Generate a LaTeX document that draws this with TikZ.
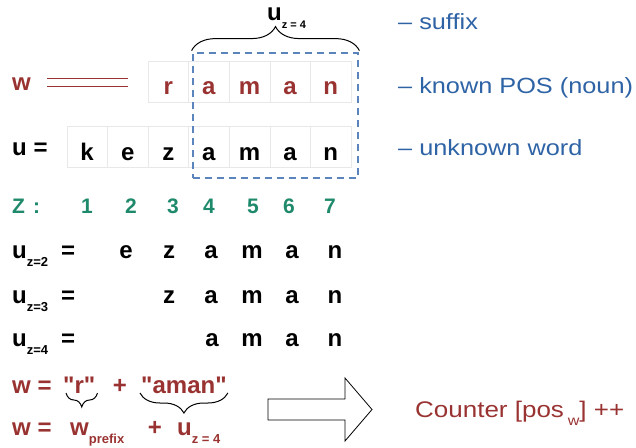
\documentclass[tikz,border=0pt]{standalone}
\usepackage{fontspec}
\setmainfont{Liberation Sans}
\newfontfamily\plainsans{Liberation Sans}
\newfontfamily\widesans[FakeStretch=1.15]{Liberation Sans}
\usepackage{tikz}
\usetikzlibrary{decorations.pathreplacing}
\definecolor{wordred}{HTML}{993331}
\definecolor{zgreen}{HTML}{1F8A6B}
\definecolor{noteblue}{HTML}{2E63A5}
\definecolor{boxblue}{HTML}{5A84BC}
\newcommand{\bigletter}{\plainsans\fontsize{24}{24}\selectfont\bfseries}
\newcommand{\zsub}[2][13]{\raisebox{-8pt}{\fontsize{#1}{#1}\selectfont #2}}
\tikzset{
  cell/.style={draw=black!9, minimum width=40.6pt, minimum height=41pt,
    text height=26pt, text depth=0pt, inner sep=0pt, font=\bigletter},
  letter/.style={anchor=base, inner sep=0pt, font=\bigletter},
  lbl/.style={anchor=base west, inner sep=0pt, font=\bigletter},
  note/.style={anchor=base west, inner sep=0pt, text=noteblue,
    font=\widesans\fontsize{22}{22}\selectfont},
  zlbl/.style={anchor=base, inner sep=0pt, text=zgreen,
    font=\plainsans\fontsize{21}{21}\selectfont\bfseries},
  suffixbox/.style={draw=boxblue, line width=2.8pt, dash pattern=on 7pt off 5pt,
    minimum width=165pt, minimum height=125pt, inner sep=0pt},
  brcup/.style={decorate, decoration={brace, amplitude=#1}, line width=1pt},
  brcdown/.style={decorate, decoration={brace, mirror, amplitude=#1}, line width=1pt},
}

\begin{document}
\begin{tikzpicture}[x=1pt,y=-1pt]
   \useasboundingbox (0,0) rectangle (636,447);
   % known word w
   \draw (12,90) node[lbl,text=wordred] (wlabel) {w};
   \draw (168.3,81.5) node[cell,text=wordred] (wr) {r};
   \draw (208.9,81.5) node[cell,text=wordred] (wa1) {a};
   \draw (249.5,81.5) node[cell,text=wordred] (wm) {m};
   \draw (290.1,81.5) node[cell,text=wordred] (wa2) {a};
   \draw (330.7,81.5) node[cell,text=wordred] (wn) {n};
   \draw[wordred, line width=0.9pt]
      ([xshift=16pt,yshift=12pt]wlabel.base east) -- ++(81,0)
      ([xshift=16pt,yshift=4pt]wlabel.base east) -- ++(81,0);
   % unknown word u
   \draw (12,155) node[lbl] (ulabel) {u =};
   \draw (87.1,147) node[cell] (uk) {k};
   \draw (127.7,147) node[cell] (ue) {e};
   \draw (168.3,147) node[cell] (uz) {z};
   \draw (208.9,147) node[cell] (ua1) {a};
   \draw (249.5,147) node[cell] (um) {m};
   \draw (290.1,147) node[cell] (ua2) {a};
   \draw (330.7,147) node[cell] (un) {n};
   % suffix box and brace
   \draw (275.5,115.5) node[suffixbox] (sfx) {};
   \draw[brcup=24pt] ([yshift=1pt]sfx.north west) -- ([yshift=1pt]sfx.north east);
   \draw (267,20) node[lbl] (utop) {u\zsub[11]{z = 4}};
   \draw (398,29) node[note] (nsuffix) {– suffix};
   \draw (398,93) node[note] (npos) {– known POS (noun)};
   \draw (398,155) node[note] (nunknown) {– unknown word};
   % positions Z
   \draw (12,213) node[zlbl,anchor=base west] (zlabel) {Z\hspace{8pt}:};
   \draw (87,213) node[zlbl] (z1) {1};
   \draw (131,213) node[zlbl] (z2) {2};
   \draw (173,213) node[zlbl] (z3) {3};
   \draw (209,213) node[zlbl] (z4) {4};
   \draw (253,213) node[zlbl] (z5) {5};
   \draw (289,213) node[zlbl] (z6) {6};
   \draw (330,213) node[zlbl] (z7) {7};
   % suffixes u_z
   \draw (12,258) node[lbl] (uz2) {u\zsub{z=2}\hspace{13pt}=};
   \draw (126,258) node[letter] (uz2e) {e};
   \draw (169,258) node[letter] (uz2z) {z};
   \draw (211,258) node[letter] (uz2a1) {a};
   \draw (252,258) node[letter] (uz2m) {m};
   \draw (292,258) node[letter] (uz2a2) {a};
   \draw (335,258) node[letter] (uz2n) {n};
   \draw (12,303) node[lbl] (uz3) {u\zsub{z=3}\hspace{13pt}=};
   \draw (169,303) node[letter] (uz3z) {z};
   \draw (211,303) node[letter] (uz3a1) {a};
   \draw (252,303) node[letter] (uz3m) {m};
   \draw (292,303) node[letter] (uz3a2) {a};
   \draw (335,303) node[letter] (uz3n) {n};
   \draw (12,346) node[lbl] (uz4) {u\zsub{z=4}\hspace{13pt}=};
   \draw (212,346) node[letter] (uz4a1) {a};
   \draw (252,346) node[letter] (uz4m) {m};
   \draw (292,346) node[letter] (uz4a2) {a};
   \draw (335,346) node[letter] (uz4n) {n};
   % w = prefix + suffix
   \draw (12,393) node[lbl,text=wordred] (wrow1) {w =};
   \draw (63,393) node[lbl,text=wordred] (rquote) {"r"};
   \draw (120,393) node[letter,text=wordred] (plus1) {+};
   \draw (141,393) node[lbl,text=wordred] (amanquote) {"aman"};
   \draw (12,435) node[lbl,text=wordred] (wrow2) {w =};
   \draw (70,435) node[lbl,text=wordred] (wprefix) {w\zsub{prefix}};
   \draw (155,435) node[letter,text=wordred] (plus2) {+};
   \draw (177,435) node[lbl,text=wordred] (usuffix) {u\zsub{z = 4}};
   \draw[brcdown=14pt] ([xshift=3pt]rquote.base west) -- ([xshift=2pt]rquote.base east);
   \draw[brcdown=20pt] ([xshift=-1pt]amanquote.base west) -- ([xshift=1pt]amanquote.base east);
   % result
   \draw[line width=0.8pt] (268,399) -- (345,399) -- (345,378) -- (372,409.5)
      -- (345,441) -- (345,420) -- (268,420) -- cycle;
   \draw (415,417) node[note,text=wordred,font=\widesans\fontsize{22.6}{22.6}\selectfont] (counter)
      {Counter [pos\,\zsub[14]{w}] ++};
\end{tikzpicture}
\end{document}
